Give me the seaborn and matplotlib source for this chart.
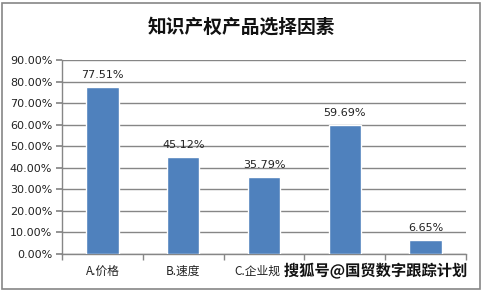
import matplotlib
matplotlib.use("Agg")
import matplotlib.pyplot as plt
import matplotlib.patches as mpatches
import matplotlib.patheffects as pe
import matplotlib.transforms as mtransforms
import seaborn as sns
import pandas as pd
from matplotlib.ticker import MultipleLocator, FuncFormatter

categories = ["A.价格", "B.速度", "C.企业规", "", " "]
values = [77.51, 45.12, 35.79, 59.69, 6.65]
title = "知识产权产品选择因素"
watermark = "搜狐号@国贸数字跟踪计划"

sns.set_theme(style="white")
plt.rcParams['font.family'] = ['Noto Sans CJK SC', 'DejaVu Sans']

df = pd.DataFrame({"cat": categories, "val": values})

W, H = 483, 291
fig = plt.figure(figsize=(W / 100, H / 100), dpi=100)
ax = fig.add_axes([62 / W, 1 - 254 / H, (466 - 62) / W, (254 - 60) / H])

sns.barplot(data=df, x="cat", y="val", color="#4F81BD", width=0.4,
            saturation=1, ax=ax, zorder=3)

ax.set_ylim(0, 90)
ax.set_xlim(-0.5, len(categories) - 0.5)
ax.yaxis.set_major_locator(MultipleLocator(10))
ax.yaxis.set_major_formatter(FuncFormatter(lambda v, p: f"{v:.2f}%"))
ax.grid(axis="y", color="#868686", linewidth=1, zorder=0)
ax.set_xlabel("")
ax.set_ylabel("")

for s in ["top", "right"]:
    ax.spines[s].set_visible(False)
ax.spines["left"].set_color("#868686")
ax.spines["bottom"].set_color("#868686")
ax.spines["left"].set_linewidth(1)
ax.spines["bottom"].set_linewidth(1)

ax.tick_params(axis="y", length=4, color="#868686", labelsize=8, pad=3,
               labelcolor="#222222", left=True)
ax.set_xticks([i - 0.5 for i in range(len(categories) + 1)], minor=True)
ax.tick_params(axis="x", which="minor", length=4, color="#868686", bottom=True)
ax.tick_params(axis="x", which="major", length=0, labelsize=8.5, pad=8,
               labelcolor="#222222")
for lab in ax.get_yticklabels():
    lab.set_family("DejaVu Sans")

# the third label is partly hidden by the watermark; nudge it left a bit
shift = mtransforms.ScaledTranslation(-7 / 100, 0, fig.dpi_scale_trans)
xlabs = ax.get_xticklabels()
xlabs[2].set_transform(xlabs[2].get_transform() + shift)

for i, v in enumerate(values):
    ax.annotate(f"{v:.2f}%", (i, v), xytext=(0, 5), textcoords="offset points",
                ha="center", va="bottom", fontsize=8, color="#222222",
                family="DejaVu Sans")

fig.text(0.5, 1 - 27 / H, title, ha="center", va="center", fontsize=13.5,
         fontweight="bold", color="#111111")

fig.text(467 / W, 1 - 271 / H, watermark, ha="right", va="center",
         fontsize=11, fontweight="bold", color="#111111",
         path_effects=[pe.withStroke(linewidth=2, foreground="white")])

border = mpatches.Rectangle((1.5 / W, 2.5 / H), (480 - 1.5) / W, (288 - 2.5) / H,
                            transform=fig.transFigure, fill=False,
                            edgecolor="#868686", linewidth=1.2)
fig.patches.append(border)

fig.savefig("out.png", dpi=100)
